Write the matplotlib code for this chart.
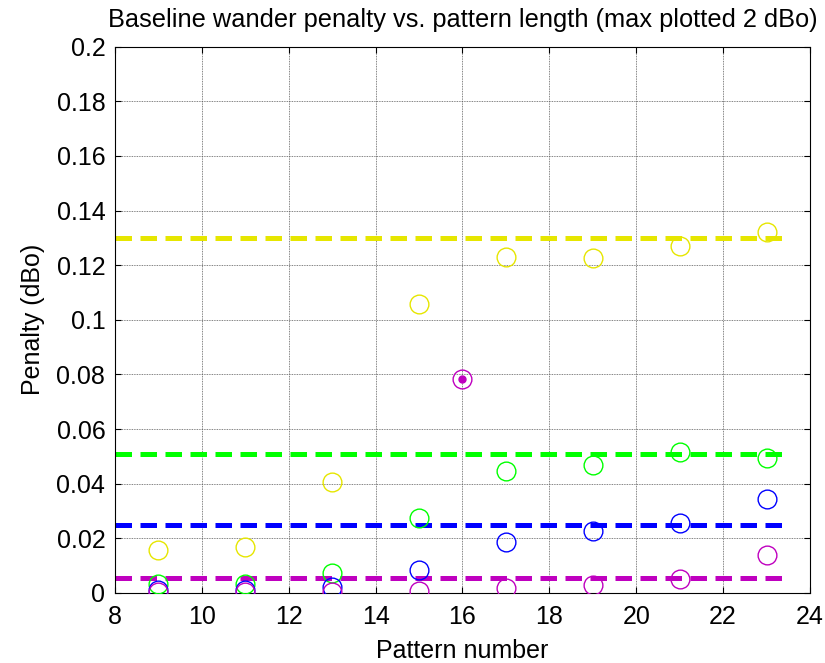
"""Baseline wander penalty vs. pattern length, MATLAB-style scatter."""
import matplotlib
matplotlib.use("Agg")
import matplotlib.pyplot as plt

plt.rcParams["font.family"] = ["Liberation Sans", "DejaVu Sans"]

# pattern numbers and per-series penalties (dBo)
patterns = [9, 11, 13, 15, 17, 19, 21, 23]
yellow_vals = [0.0157, 0.0168, 0.0408, 0.1057, 0.1230, 0.1226, 0.1270, 0.1322]
green_vals = [0.0033, 0.0033, 0.0075, 0.0276, 0.0445, 0.0468, 0.0516, 0.0494]
blue_vals = [0.0010, 0.0010, 0.0022, 0.0083, 0.0186, 0.0228, 0.0258, 0.0343]
magenta_vals = [0.0004, 0.0004, 0.0004, 0.0006, 0.0018, 0.0030, 0.0050, 0.0138]

# single highlighted point
special_x = [16]
special_y = [0.0782]

# horizontal reference levels
ref_x = [8, 23.4]
ref_levels = [0.1298, 0.0510, 0.0250, 0.0054]

YELLOW = "#e6e600"
GREEN = "#00ff00"
BLUE = "#0000ff"
MAGENTA = "#bf00bf"
colors = [YELLOW, GREEN, BLUE, MAGENTA]

fig = plt.figure(figsize=(8.25, 6.63), dpi=100)
ax = fig.add_axes([0.1394, 0.1056, 0.8424, 0.8239])

for lvl, c in zip(ref_levels, colors):
    ax.plot(ref_x, [lvl, lvl], color=c, lw=3.6, dashes=(3.3, 1.7), zorder=2)

for vals, c in zip([yellow_vals, green_vals, blue_vals, magenta_vals], colors):
    ax.plot(patterns, vals, "o", mfc="none", mec=c, ms=13.5, mew=1.0, zorder=3)

ax.plot(special_x, special_y, "o", mfc="none", mec=MAGENTA, ms=13.5, mew=1.0, zorder=3)
ax.plot(special_x, special_y, "o", color=MAGENTA, ms=5, zorder=3)

ax.set_xlim(8, 24)
ax.set_ylim(0, 0.2)
ax.set_xticks(range(8, 25, 2))
ax.set_yticks([i * 0.02 for i in range(11)])
ax.set_yticklabels(["0", "0.02", "0.04", "0.06", "0.08", "0.1", "0.12",
                    "0.14", "0.16", "0.18", "0.2"])
ax.tick_params(direction="in", length=4, width=0.8, labelsize=18,
               top=True, right=True, colors="black")
ax.tick_params(axis="x", pad=9)
ax.tick_params(axis="y", pad=7)
ax.grid(True, color="0.35", ls=(0, (1, 1)), lw=0.6)
for s in ax.spines.values():
    s.set_linewidth(0.8)

ax.set_title("Baseline wander penalty vs. pattern length (max plotted 2 dBo)",
             fontsize=18.3, pad=14)
ax.set_xlabel("Pattern number", fontsize=18, labelpad=7)
ax.set_ylabel("Penalty (dBo)", fontsize=18, labelpad=8)

fig.savefig("out.png", dpi=100, facecolor="white")
